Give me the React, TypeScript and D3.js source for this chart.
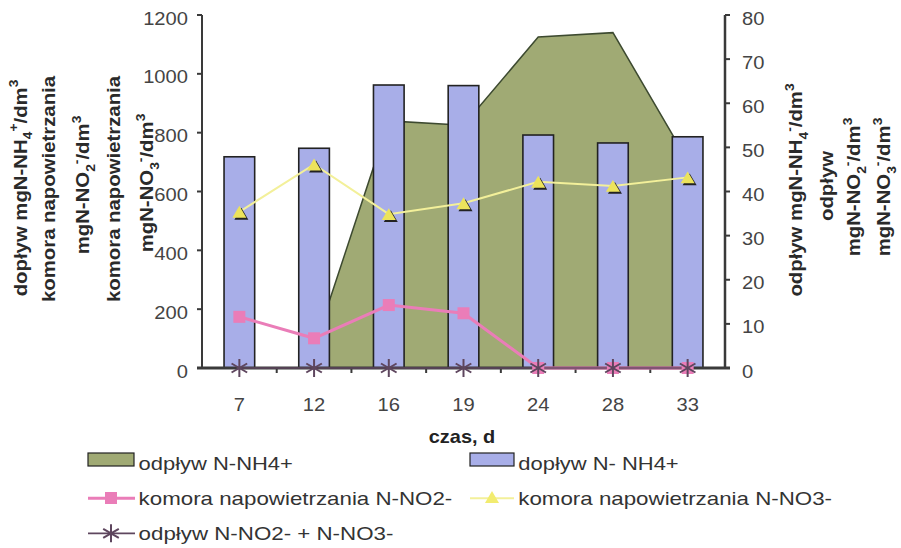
import React from "react";
import * as d3 from "d3";

const categories = ["7", "12", "16", "19", "24", "28", "33"];
const doplywNH4 = [718, 747, 962, 960, 792, 765, 786]; // left axis, bars
const odplywNH4: (number | null)[] = [null, 4.7, 56, 55, 75, 76, 47]; // right axis, area
const komoraNO2 = [174, 101, 214, 186, 0, 0, 0]; // left axis
const komoraNO3 = [531, 692, 523, 560, 633, 619, 648]; // left axis
const odplywNO2NO3 = [0, 0, 0, 0, 0, 0, 0]; // right axis
const leftTicks = [0, 200, 400, 600, 800, 1000, 1200];
const rightTicks = [0, 10, 20, 30, 40, 50, 60, 70, 80];

const W = 901;
const H = 548;
const X0 = 202;
const X1 = 725;
const YB = 368;
const YT = 15;

const FONT = "'Liberation Sans', Arial, sans-serif";

type Seg = { t: string; sub?: boolean; sup?: boolean };

function Rich({ segs, size }: { segs: Seg[]; size: number }) {
  let cur = 0;
  const out: React.ReactNode[] = [];
  segs.forEach((s, i) => {
    const target = s.sub ? size * 0.3 : s.sup ? -size * 0.45 : 0;
    const dy = target - cur;
    cur = target;
    out.push(
      <tspan key={i} dy={dy} fontSize={s.sub || s.sup ? size * 0.68 : size}>
        {s.t}
      </tspan>
    );
  });
  return <>{out}</>;
}

function STitle({ x, y, segs, sx = 1.1, size = 18.5 }: { x: number; y: number; segs: Seg[]; sx?: number; size?: number }) {
  return (
    <text
      transform={`translate(${x},${y}) rotate(-90) scale(${sx},1)`}
      textAnchor="middle"
      fontFamily={FONT}
      fontWeight="bold"
      fontSize={size}
      fill="#2a2a2a"
    >
      <Rich segs={segs} size={size} />
    </text>
  );
}

function SText({
  x, y, children, sx = 1.15, anchor = "start", size = 18, bold = false, fill = "#333",
}: { x: number; y: number; children: React.ReactNode; sx?: number; anchor?: string; size?: number; bold?: boolean; fill?: string }) {
  return (
    <text
      transform={`translate(${x},${y}) scale(${sx},1)`}
      textAnchor={anchor as any}
      fontFamily={FONT}
      fontSize={size}
      fontWeight={bold ? "bold" : "normal"}
      fill={fill}
    >
      {children}
    </text>
  );
}

function Star({ x, y, r = 9, color = "#5a405a" }: { x: number; y: number; r?: number; color?: string }) {
  const a = r * 0.866;
  const b = r * 0.5;
  return (
    <g stroke={color} strokeWidth={2}>
      <line x1={x} y1={y - r} x2={x} y2={y + r} />
      <line x1={x - a} y1={y - b} x2={x + a} y2={y + b} />
      <line x1={x - a} y1={y + b} x2={x + a} y2={y - b} />
    </g>
  );
}

function Tri({ x, y, s = 14 }: { x: number; y: number; s?: number }) {
  const h = s * 0.85;
  const p = (dx: number, dy: number) =>
    `${x + dx - s / 2},${y + dy + h / 2} ${x + dx + s / 2},${y + dy + h / 2} ${x + dx},${y + dy - h / 2}`;
  return (
    <g>
      <polygon points={p(2, 2)} fill="#222" />
      <polygon points={p(0, 0)} fill="#ece35c" />
    </g>
  );
}

export default function App() {
  const x = d3.scaleBand<string>().domain(categories).range([X0, X1]).paddingInner(0).paddingOuter(0);
  const cx = (c: string) => (x(c) as number) + x.bandwidth() / 2;
  const yL = d3.scaleLinear().domain([0, 1200]).range([YB, YT]);
  const yR = d3.scaleLinear().domain([0, 80]).range([YB, YT]);
  const bw = x.bandwidth() * 0.41;

  const areaData = categories.map((c, i) => ({ c, v: odplywNH4[i] }));
  const areaGen = d3
    .area<{ c: string; v: number | null }>()
    .defined((d) => d.v != null)
    .x((d) => cx(d.c))
    .y0(YB)
    .y1((d) => yR(d.v as number));
  const areaTop = d3
    .line<{ c: string; v: number | null }>()
    .defined((d) => d.v != null)
    .x((d) => cx(d.c))
    .y((d) => yR(d.v as number));

  const lineL = d3
    .line<number>()
    .x((_, i) => cx(categories[i]))
    .y((v) => yL(v));
  const lineR = d3
    .line<number>()
    .x((_, i) => cx(categories[i]))
    .y((v) => yR(v));

  const pink = "#ea7db8";
  const yellowLine = "#f3f09a";
  const starColor = "#5e465e";
  const axisColor = "#3a3a3a";
  const green = "#a0aa74";
  const blue = "#a8aee8";

  return (
    <svg width={W} height={H} style={{ position: "absolute", left: 0, top: 0, background: "#fff" }}>
      <rect x={0} y={0} width={W} height={H} fill="#fff" />
      {/* area */}
      <path d={areaGen(areaData) || ""} fill={green} />
      <path d={areaTop(areaData) || ""} fill="none" stroke="#3d4a30" strokeWidth={1.5} />
      {/* bars */}
      {categories.map((c, i) => (
        <rect
          key={c}
          x={cx(c) - bw / 2}
          y={yL(doplywNH4[i])}
          width={bw}
          height={YB - yL(doplywNH4[i])}
          fill={blue}
          stroke="#222"
          strokeWidth={1.6}
        />
      ))}
      {/* axes */}
      <line x1={X0} y1={YT} x2={X0} y2={YB} stroke={axisColor} strokeWidth={2} />
      {leftTicks.map((t) => (
        <line key={t} x1={X0 - 5} x2={X0} y1={yL(t)} y2={yL(t)} stroke={axisColor} strokeWidth={2} />
      ))}
      <line x1={X1} y1={YT} x2={X1} y2={YB} stroke={axisColor} strokeWidth={2.5} />
      {rightTicks.map((t) => (
        <line key={t} x1={X1} x2={X1 + 5} y1={yR(t)} y2={yR(t)} stroke={axisColor} strokeWidth={2} />
      ))}
      {categories.slice(1).map((c) => (
        <line key={c} x1={x(c) as number} x2={x(c) as number} y1={YB} y2={YB + 5} stroke={axisColor} strokeWidth={2} />
      ))}
      <line x1={X0 - 5} y1={YB} x2={X1 + 5} y2={YB} stroke={axisColor} strokeWidth={3} />
      {/* lines */}
      <path d={lineL(komoraNO3) || ""} fill="none" stroke={yellowLine} strokeWidth={2} />
      <path d={lineL(komoraNO2) || ""} fill="none" stroke={pink} strokeWidth={3} />
      <path d={lineR(odplywNO2NO3) || ""} fill="none" stroke={starColor} strokeWidth={1.5} />
      {categories.map((c, i) => (
        <rect key={c} x={cx(c) - 6} y={yL(komoraNO2[i]) - 6} width={12} height={12} fill={pink} />
      ))}
      {categories.map((c, i) => (
        <Tri key={c} x={cx(c)} y={yL(komoraNO3[i])} />
      ))}
      {categories.map((c, i) => (
        <Star key={c} x={cx(c)} y={yR(odplywNO2NO3[i])} color={starColor} />
      ))}
      {/* tick labels */}
      {leftTicks.map((t) => (
        <SText key={t} x={188} y={yL(t) + 9.5} anchor="end" sx={1.12} fill="#444">
          {t}
        </SText>
      ))}
      {rightTicks.map((t) => (
        <SText key={t} x={742} y={yR(t) + 9.5} sx={1.12} fill="#444">
          {t}
        </SText>
      ))}
      {categories.map((c) => (
        <SText key={c} x={cx(c)} y={411} anchor="middle" sx={1.12} fill="#444">
          {c}
        </SText>
      ))}
      <SText x={462} y={443} anchor="middle" bold size={17.5} sx={1.14} fill="#222">
        czas, d
      </SText>
      {/* left titles */}
      <STitle x={26.7} y={188} segs={[{ t: "dopływ mgN-NH" }, { t: "4", sub: true }, { t: "+", sup: true }, { t: "/dm" }, { t: "3", sup: true }]} />
      <STitle x={55} y={189} segs={[{ t: "komora napowietrzania" }]} />
      <STitle x={89} y={185} segs={[{ t: "mgN-NO" }, { t: "2", sub: true }, { t: "-", sup: true }, { t: "/dm" }, { t: "3", sup: true }]} />
      <STitle x={120} y={189} segs={[{ t: "komora napowietrzania" }]} />
      <STitle x={153} y={183} segs={[{ t: "mgN-NO" }, { t: "3", sub: true }, { t: "-", sup: true }, { t: "/dm" }, { t: "3", sup: true }]} />
      {/* right titles */}
      <STitle x={802} y={190} segs={[{ t: "odpływ mgN-NH" }, { t: "4", sub: true }, { t: "-", sup: true }, { t: "/dm" }, { t: "3", sup: true }]} />
      <STitle x={833} y={186} segs={[{ t: "odpływ" }]} />
      <STitle x={860} y={187} segs={[{ t: "mgN-NO" }, { t: "2", sub: true }, { t: "-", sup: true }, { t: "/dm" }, { t: "3", sup: true }]} />
      <STitle x={890} y={187} segs={[{ t: "mgN-NO" }, { t: "3", sub: true }, { t: "-", sup: true }, { t: "/dm" }, { t: "3", sup: true }]} />
      {/* legend */}
      <rect x={88} y={453} width={46} height={13} fill={green} stroke="#222" strokeWidth={1.2} />
      <SText x={138.6} y={470} sx={1.22}>odpływ N-NH4+</SText>
      <rect x={470} y={453} width={44} height={13} fill={blue} stroke="#222" strokeWidth={1.2} />
      <SText x={518.3} y={470} sx={1.22}>dopływ N- NH4+</SText>
      <line x1={88} x2={135} y1={498.3} y2={498.3} stroke={pink} strokeWidth={3} />
      <rect x={105} y={492} width={12} height={12} fill={pink} />
      <SText x={138.6} y={505} sx={1.24}>komora napowietrzania N-NO2-</SText>
      <line x1={470} x2={514} y1={498.3} y2={498.3} stroke={yellowLine} strokeWidth={2} />
      <polygon points="485,503 499,503 492,491" fill="#f2ec70" />
      <SText x={518.3} y={505} sx={1.24}>komora napowietrzania N-NO3-</SText>
      <line x1={88} x2={135} y1={533.3} y2={533.3} stroke={starColor} strokeWidth={1.8} />
      <Star x={111} y={533.3} color={starColor} />
      <SText x={138.6} y={540} sx={1.24}>odpływ N-NO2- + N-NO3-</SText>
    </svg>
  );
}
